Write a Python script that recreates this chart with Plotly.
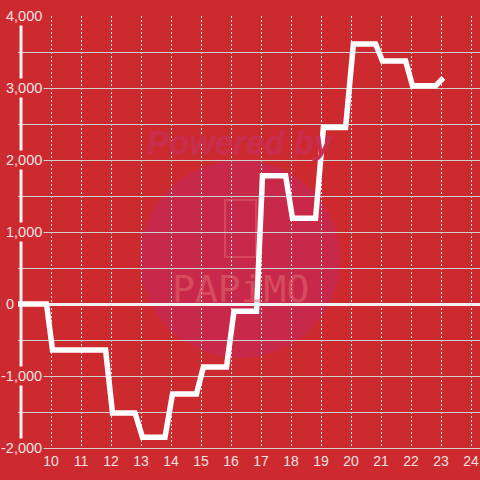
import plotly.graph_objects as go

# ---- data ----
hours = [8.9, 9.85, 10.05, 11.82, 12.05, 12.8, 13.05, 13.8, 14.05, 14.85, 15.08,
         15.85, 16.1, 16.85, 17.05, 17.82, 18.05, 18.82, 19.08, 19.82, 20.08,
         20.82, 21.05, 21.82, 22.05, 22.82, 23.08]
balance = [0, 0, -640, -640, -1514, -1514, -1850, -1850, -1250, -1250, -875,
           -875, -100, -100, 1780, 1780, 1190, 1190, 2450, 2450, 3610,
           3610, 3375, 3375, 3030, 3030, 3140]

x_ticks = list(range(10, 25))
x_tick_labels = [str(h) for h in x_ticks]
y_ticks = [4000, 3000, 2000, 1000, 0, -1000, -2000]
y_tick_labels = ["4,000", "3,000", "2,000", "1,000", "0", "-1,000", "-2,000"]

BG = "#cd2a30"
LABEL = "#f3e0e0"
FONT = "Liberation Sans, Arial, sans-serif"

fig = go.Figure()
fig.add_trace(go.Scatter(
    x=hours, y=balance, mode="lines",
    line=dict(color="#ffffff", width=5.5),
    hoverinfo="skip", showlegend=False,
))

shapes = [
    # watermark circle
    dict(type="circle", xref="paper", yref="paper", layer="below",
         x0=(140 - 18) / 462, x1=(340 - 18) / 462,
         y0=(448 - 358) / 432, y1=(448 - 160) / 432,
         fillcolor="#c8294a", line=dict(width=0)),
    # watermark phone outline
    dict(type="rect", xref="paper", yref="paper", layer="below",
         x0=(225 - 18) / 462, x1=(256 - 18) / 462,
         y0=(448 - 257) / 432, y1=(448 - 200) / 432,
         fillcolor="rgba(0,0,0,0)", line=dict(color="rgba(225,95,105,0.55)", width=2)),
    # left vertical bar at hour 9
    dict(type="line", xref="x", yref="y", layer="above",
         x0=9, x1=9, y0=-2000, y1=4000,
         line=dict(color="#f2f2f2", width=3)),
]

annotations = [
    dict(text="<b><i>Powered by</i></b>", xref="paper", yref="paper",
         x=(240 - 18) / 462, y=(448 - 122) / 432, showarrow=False,
         font=dict(family=FONT, size=33, color="#ca2e4e")),
    dict(text="PAPiMO", xref="paper", yref="paper",
         x=(240 - 18) / 462, y=(448 - 289) / 432, showarrow=False,
         font=dict(family="DejaVu Sans Mono, monospace", size=38, color="rgba(228,105,112,0.55)")),
]
for v, lab in zip(y_ticks, y_tick_labels):
    xpx = 16 if v == 0 else 44
    annotations.append(dict(
        text=lab, xref="paper", yref="y", x=(xpx - 18) / 462, y=v,
        xanchor="right", yanchor="middle", showarrow=False,
        bgcolor=BG, borderpad=1,
        font=dict(family=FONT, size=14.5, color=LABEL)))

fig.update_layout(
    width=480, height=480,
    margin=dict(l=18, r=0, t=16, b=32),
    paper_bgcolor=BG, plot_bgcolor=BG,
    font=dict(family=FONT, size=14, color=LABEL),
    shapes=shapes, annotations=annotations,
    xaxis=dict(range=[8.9, 24.3], tickvals=x_ticks, ticktext=x_tick_labels,
               showgrid=True, gridcolor="#e6e6e6", gridwidth=1, griddash="2px,2px",
               zeroline=False, showline=True, linecolor="#cfcfcf", linewidth=1,
               ticks="", tickfont=dict(family=FONT, size=14, color=LABEL),
               fixedrange=True),
    yaxis=dict(range=[-2000, 4000], dtick=500, showticklabels=False,
               showgrid=True, gridcolor="#cfcfcf", gridwidth=1,
               zeroline=True, zerolinecolor="#f2f2f2", zerolinewidth=3,
               showline=False, fixedrange=True),
)

fig.write_html(
    "out.html",
    config={"displayModeBar": False},
    post_script="document.body.style.margin='0';document.body.style.background='%s';" % BG,
)
